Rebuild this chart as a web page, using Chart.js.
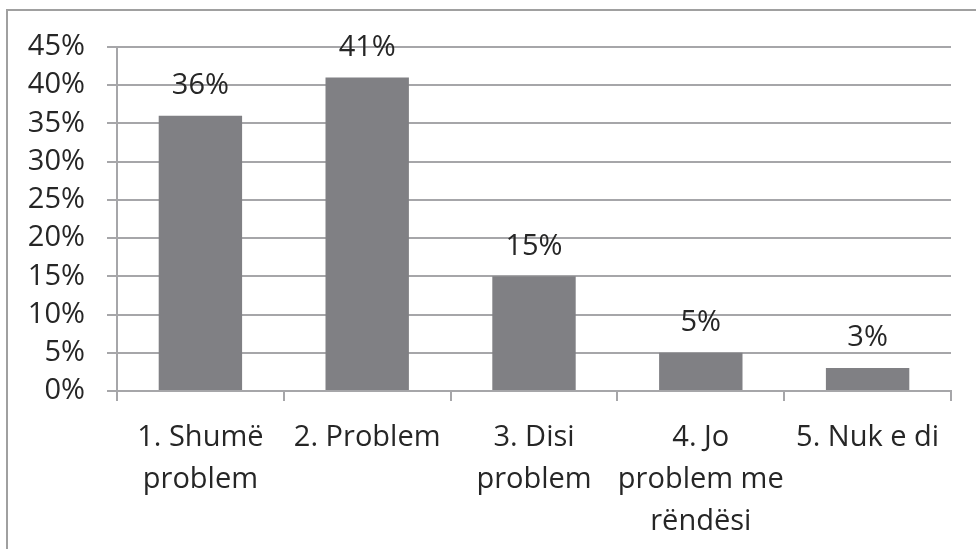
<!DOCTYPE html>
<html><head><meta charset="utf-8">
<script src="https://cdn.jsdelivr.net/npm/chart.js@4"></script>
<style>
html,body{margin:0;padding:0;background:#fff;width:976px;height:549px;overflow:hidden}
#frame{position:absolute;left:6px;top:9px;width:1000px;height:600px;border-top:2px solid #a0a0a0;border-left:2px solid #a0a0a0;pointer-events:none}
#wrap{position:absolute;left:0;top:0;width:976px;height:549px}
</style></head>
<body>
<div id="wrap"><canvas id="c" width="976" height="549"></canvas></div>
<div id="frame"></div>
<script>
const categories = [["1. Shumë","problem"], ["2. Problem"], ["3. Disi","problem"], ["4. Jo","problem me","rëndësi"], ["5. Nuk e di"]];
const values = [36, 41, 15, 5, 3];
const yTicks = [0,5,10,15,20,25,30,35,40,45];

const FONT = "'Open Sans', sans-serif";
const FS = 29;
const TXT = '#262626';
const GRID = '#a6a6a9';

const valueLabels = {
  id: 'valueLabels',
  afterDatasetsDraw(chart) {
    const ctx = chart.ctx;
    const meta = chart.getDatasetMeta(0);
    ctx.save();
    ctx.font = FS + 'px ' + FONT;
    ctx.fillStyle = TXT;
    ctx.textAlign = 'center';
    ctx.textBaseline = 'middle';
    meta.data.forEach((bar, i) => {
      ctx.fillText(values[i] + '%', bar.x, bar.y - 30);
    });
    ctx.restore();
  }
};

new Chart(document.getElementById('c'), {
  type: 'bar',
  data: {
    labels: categories,
    datasets: [{ data: values, backgroundColor: '#808084', barPercentage: 0.5, categoryPercentage: 1.0 }]
  },
  options: {
    responsive: false,
    animation: false,
    events: [],
    layout: { padding: { left: 0, top: 47, right: 25, bottom: 0 } },
    plugins: { legend: { display: false }, tooltip: { enabled: false } },
    scales: {
      y: {
        min: 0, max: 45,
        afterFit(s) { s.width = 117; },
        afterBuildTicks(s) { s.ticks = yTicks.map(v => ({ value: v })); },
        ticks: { callback: v => v + '%', font: { size: FS, family: FONT }, color: TXT, padding: 22 },
        grid: { color: GRID, lineWidth: 2, tickLength: 10, drawTicks: true },
        border: { display: true, color: GRID, width: 2 }
      },
      x: {
        afterFit(s) { s.height = 158; },
        ticks: { font: { size: FS, family: FONT, lineHeight: 1.45 }, color: TXT, maxRotation: 0, autoSkip: false, padding: 16 },
        grid: { drawOnChartArea: false, color: GRID, lineWidth: 2, tickLength: 10, offset: true },
        border: { display: true, color: GRID, width: 2 }
      }
    }
  },
  plugins: [valueLabels]
});
</script>
</body></html>
